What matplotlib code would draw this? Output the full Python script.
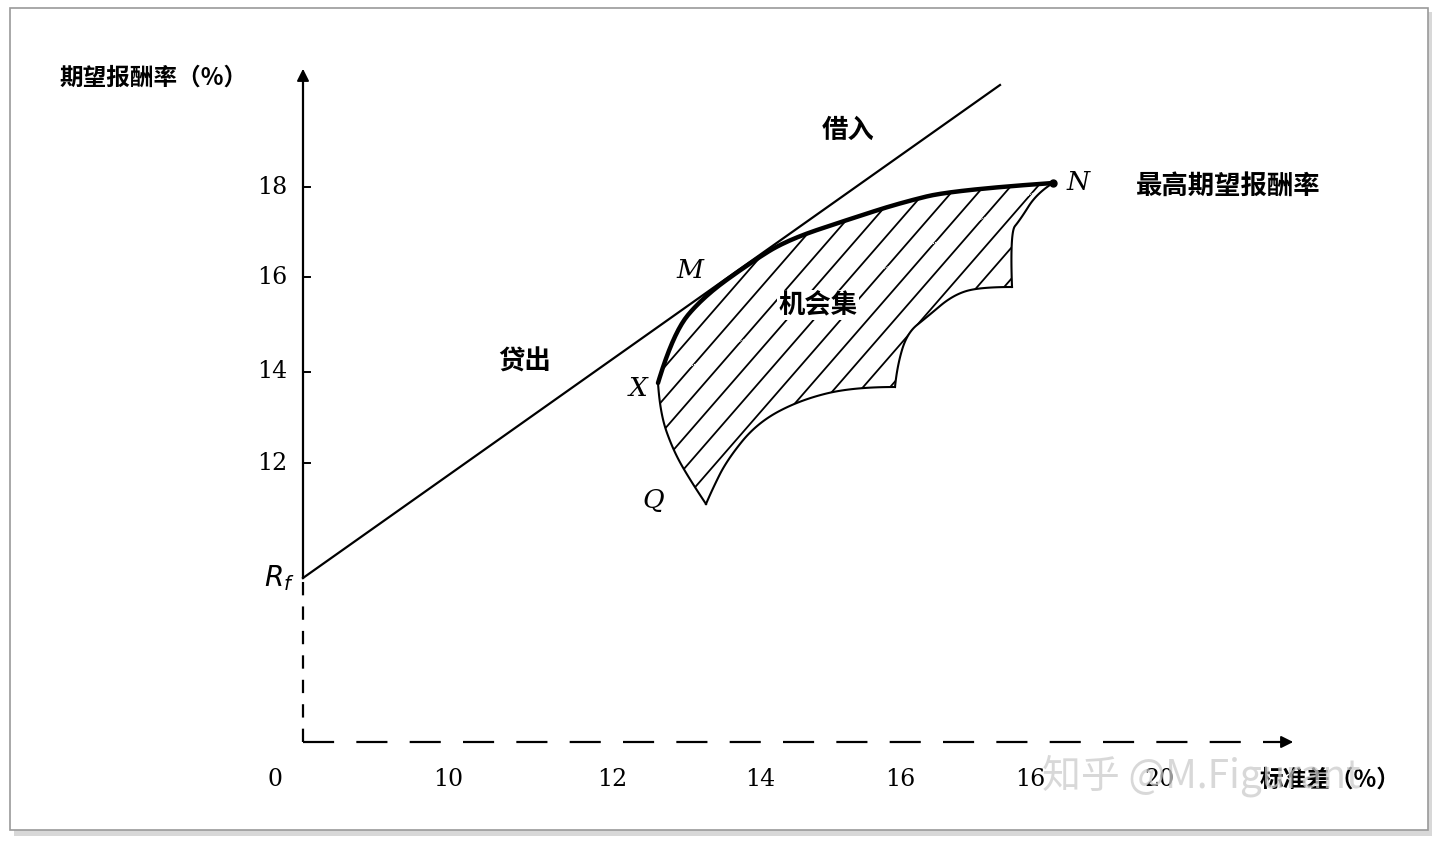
import matplotlib as mpl
mpl.use("Agg")
import matplotlib.pyplot as plt
import numpy as np
from matplotlib.patches import Polygon, Rectangle

plt.rcParams["font.family"] = ["Noto Sans CJK SC", "DejaVu Sans"]

# everything below is in picture pixel coordinates (x right, y down)
W, H = 1440, 842
AX_X, AX_Y = 303, 742          # origin of the drawn axes
RF_Y = 578                     # risk-free rate on the return axis

y_tick_pos = [187, 277, 372, 463]
y_tick_labels = ["18", "16", "14", "12"]
x_tick_pos = [275, 448, 612, 760, 900, 1030, 1160]
x_tick_labels = ["0", "10", "12", "14", "16", "16", "20"]

# capital market line (lend / borrow)
cml_x = [303, 1000]
cml_y = [578, 85]

# efficient frontier N -> M -> X (thick)
front_x = [1053, 953, 900, 853, 787, 750, 703, 673, 658]
front_y = [183, 190, 203, 218, 240, 263, 297, 333, 383]
# lower-left boundary X -> Q
left_x = [658, 660, 673, 690, 706]
left_y = [383, 413, 450, 480, 504]
# lower boundary pieces Q -> cusp, cusp -> corner, corner -> N
low1_x = [706, 712, 727, 757, 800, 853, 895]
low1_y = [504, 490, 460, 423, 400, 387, 387]
low2_x = [895, 897, 907, 927, 953, 980, 1012]
low2_y = [387, 367, 333, 317, 295, 287, 287]
low3_x = [1012, 1010, 1020, 1037, 1053]
low3_y = [287, 232, 220, 193, 183]


def smooth(xs, ys, n=20):
    """Quadratic Bezier pieces through the midpoints of the read points."""
    p = np.column_stack([xs, ys]).astype(float)
    if len(p) < 3:
        return p[:, 0], p[:, 1]
    mids = (p[:-1] + p[1:]) / 2
    starts = np.vstack([p[0], mids[1:-1]])
    ends = np.vstack([mids[1:-1], p[-1]])
    ctrls = p[1:-1]
    t = np.linspace(0, 1, n)[:, None]
    out = [p[:1]]
    for a, c, b in zip(starts, ctrls, ends):
        out.append((1 - t) ** 2 * a + 2 * (1 - t) * t * c + t ** 2 * b)
    pts = np.vstack(out)
    return pts[:, 0], pts[:, 1]


fig = plt.figure(figsize=(14.4, 8.42), dpi=100)
ax = fig.add_axes([0, 0, 1, 1])
ax.set_xlim(0, W)
ax.set_ylim(H, 0)
ax.axis("off")

# page frame with soft shadow
ax.add_patch(Rectangle((14, 12), 1418, 824, facecolor="#d8d8d8", edgecolor="none", zorder=0))
ax.add_patch(Rectangle((10, 8), 1418, 822, facecolor="white", edgecolor="#9a9a9a", lw=1.2, zorder=1))

# axes
ax.plot([AX_X, AX_X], [RF_Y, 82], color="black", lw=1.6, zorder=3)
ax.plot([AX_X, AX_X], [AX_Y, RF_Y], color="black", lw=1.6, ls=(0, (6, 5)), zorder=3)
ax.plot([AX_X, 1280], [AX_Y, AX_Y], color="black", lw=1.6, ls=(0, (14, 10)), zorder=3)
ax.annotate("", xy=(AX_X, 66), xytext=(AX_X, 90),
            arrowprops=dict(arrowstyle="-|>", color="black", lw=1.4, mutation_scale=18), zorder=3)
ax.annotate("", xy=(1296, AX_Y), xytext=(1270, AX_Y),
            arrowprops=dict(arrowstyle="-|>", color="black", lw=1.4, mutation_scale=18), zorder=3)

for yp, lab in zip(y_tick_pos, y_tick_labels):
    ax.plot([AX_X, AX_X + 7], [yp, yp], color="black", lw=1.4, zorder=3)
    ax.text(272, yp, lab, ha="center", va="center", fontsize=17, family="DejaVu Serif")
for xp, lab in zip(x_tick_pos, x_tick_labels):
    ax.text(xp, 780, lab, ha="center", va="center", fontsize=17, family="DejaVu Serif")

ax.text(60, 78, "期望报酬率（%）", ha="left", va="center", fontsize=17, fontweight="bold")
ax.text(1330, 780, "标准差（%）", ha="center", va="center", fontsize=17, fontweight="bold")

# capital market line
ax.plot(cml_x, cml_y, color="black", lw=1.6, zorder=4)

# opportunity set outline, smoothed
fx, fy = smooth(front_x, front_y)
lx, ly = smooth(left_x, left_y)
b1x, b1y = smooth(low1_x, low1_y)
b2x, b2y = smooth(low2_x, low2_y)
b3x, b3y = smooth(low3_x, low3_y)

poly_x = np.concatenate([fx[::-1], lx, b1x, b2x, b3x])
poly_y = np.concatenate([fy[::-1], ly, b1y, b2y, b3y])
poly = Polygon(np.column_stack([poly_x, poly_y]), closed=True, facecolor="white",
               edgecolor="none", zorder=2)
ax.add_patch(poly)
for c in np.arange(300, 1500, 27):
    hl, = ax.plot([c - 400, c + 400], [600 + 400 * 1.15, 600 - 400 * 1.15],
                  color="black", lw=1.3, zorder=3)
    hl.set_clip_path(poly)

ax.plot(fx, fy, color="black", lw=3.2, solid_capstyle="round", zorder=5)
ax.plot(lx, ly, color="black", lw=1.5, zorder=5)
for bx, by in ((b1x, b1y), (b2x, b2y), (b3x, b3y)):
    ax.plot(bx, by, color="black", lw=1.5, zorder=5)
ax.plot([1053], [183], "o", color="black", ms=5, zorder=6)

# labels
ax.text(848, 130, "借入", ha="center", va="center", fontsize=19, fontweight="bold")
ax.text(525, 362, "贷出", ha="center", va="center", fontsize=19, fontweight="bold")
ax.text(818, 305, "机会集", ha="center", va="center", fontsize=19, fontweight="bold",
        bbox=dict(facecolor="white", edgecolor="none", pad=1), zorder=7)
ax.text(1228, 187, "最高期望报酬率", ha="center", va="center", fontsize=19, fontweight="bold")
serif_it = dict(family="DejaVu Serif", style="italic", fontsize=19, ha="center", va="center")
ax.text(1078, 183, "N", **serif_it)
ax.text(690, 270, "M", **serif_it)
ax.text(638, 388, "X", **serif_it)
ax.text(653, 500, "Q", **serif_it)
ax.text(279, 578, r"$R_f$", ha="center", va="center", fontsize=20)

ax.text(1042, 776, "知乎 @M.Figurant", ha="left", va="center", fontsize=28,
        color="#cccccc", alpha=0.75, zorder=8)

fig.savefig("out.png", dpi=100, facecolor="white")
